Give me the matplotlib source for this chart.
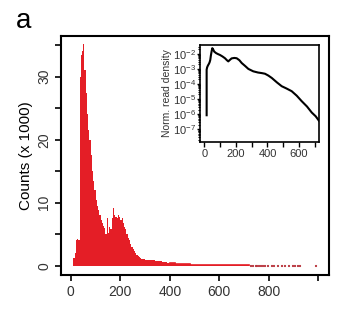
import matplotlib
matplotlib.use('Agg')
import matplotlib.pyplot as plt
import numpy as np

plt.rcParams['font.family'] = ['Liberation Sans', 'DejaVu Sans']
plt.rcParams['mathtext.fontset'] = 'custom'
plt.rcParams['mathtext.rm'] = 'Liberation Sans'
plt.rcParams['mathtext.it'] = 'Liberation Sans:italic'
plt.rcParams['mathtext.bf'] = 'Liberation Sans:bold'

# fragment length histogram, counts in thousands, 5 bp bins starting at 10
bin_start = 10
bin_width = 5
counts = [1.2, 2.0, 4.0, 4.2, 4.0, 30.0, 33.5, 34.0, 35.2, 31.0,
          27.4, 24.0, 21.5, 20.0, 17.5, 15.0, 13.5, 12.0, 10.5, 9.5,
          8.8, 8.0, 7.2, 6.8, 6.3, 6.0, 5.0, 7.6, 5.2, 6.2,
          5.8, 7.5, 9.2, 8.0, 7.8, 7.6, 8.0, 7.8, 7.3, 7.5,
          6.8, 6.1, 5.8, 5.0, 4.4, 4.0, 3.4, 3.0, 2.6, 2.3,
          2.0, 1.7, 1.5, 1.35, 1.2, 1.1, 1.05, 1.0, 0.95, 0.92,
          0.9, 0.9, 0.88, 0.86, 0.85, 0.83, 0.82, 0.8, 0.78, 0.75,
          0.72, 0.7, 0.66, 0.62, 0.58, 0.52, 0.46, 0.42]
# long tail, 20 bp bins from 400
tail_start = 400
tail_width = 20
tail_counts = [0.38, 0.3, 0.24, 0.2, 0.17, 0.15, 0.13, 0.11,
               0.1, 0.09, 0.08, 0.07, 0.06, 0.05, 0.04, 0.035]
# isolated long fragments
sparse_pos = [725, 735, 745, 752, 760, 768, 775, 785, 795, 810,
              820, 835, 850, 865, 880, 895, 905, 915, 925, 990]
sparse_counts = [0.03] * len(sparse_pos)

# inset: normalised read density (log10) vs fragment length
dens_x = [15, 15, 18, 22, 26, 30, 34, 38, 42, 47, 51, 56, 63, 75,
          88, 99, 115, 131, 143, 152, 160, 173, 190, 205, 222, 237,
          258, 279, 310, 340, 365, 384, 405, 427, 460, 490, 520, 553,
          585, 616, 650, 680, 705, 726]
dens_log = [-6.08, -3.05, -2.9, -2.8, -2.72, -2.65, -2.55, -2.4, -2.1,
            -1.8, -1.62, -1.7, -1.85, -1.95, -2.02, -2.07, -2.17, -2.29,
            -2.42, -2.5, -2.42, -2.3, -2.27, -2.29, -2.42, -2.61, -2.8,
            -3.0, -3.16, -3.24, -3.28, -3.32, -3.44, -3.6, -3.9, -4.15,
            -4.3, -4.48, -4.78, -5.14, -5.5, -5.9, -6.15, -6.45]

red = '#E41E26'

fig = plt.figure(figsize=(3.56, 3.24), dpi=100)
ax = fig.add_axes([0.1713, 0.1512, 0.7528, 0.7377])

edges = bin_start + bin_width * np.arange(len(counts) + 1)
ax.stairs(counts, edges, fill=True, color=red, baseline=0)
tedges = tail_start + tail_width * np.arange(len(tail_counts) + 1)
ax.stairs(tail_counts, tedges, fill=True, color=red, baseline=0)
ax.stairs(tail_counts, tedges, color=red, baseline=0, lw=1.2)
ax.bar(sparse_pos, sparse_counts, width=4, color='#B8343C',
       edgecolor='#B8343C', linewidth=0.8)

ax.set_xlim(-40, 1044)
ax.set_ylim(-1.48, 36.46)
ax.set_xticks(range(0, 1001, 200))
ax.set_xticklabels(['0', '200', '400', '600', '800', ''])
ax.set_yticks(range(0, 36, 5))
ax.set_yticklabels(['0', '', '10', '', '20', '', '30', ''],
                   rotation=90, va='center')
for s in ax.spines.values():
    s.set_linewidth(1.5)
ax.tick_params(direction='out', length=4, width=1.2, labelsize=10,
               labelcolor='#333333', pad=3)
ax.set_ylabel('Counts (x 1000)', fontsize=11, labelpad=3)

fig.text(0.045, 0.915, 'a', fontsize=20)

# inset
ins = fig.add_axes([0.5618, 0.5617, 0.3343, 0.2994])
ins.plot(dens_x, np.power(10.0, dens_log), color='black', lw=1.5)
ins.set_yscale('log')
ins.set_xlim(-27, 726)
ins.set_ylim(10 ** -7.86, 10 ** -1.41)
ins.set_xticks(range(0, 701, 100))
ins.set_xticklabels(['0', '', '200', '', '400', '', '600', ''])
ins.set_yticks([10.0 ** k for k in range(-7, -1)])
ins.set_yticklabels(['$10^{%d}$' % k for k in range(-7, -1)])
ins.yaxis.set_minor_locator(matplotlib.ticker.LogLocator(base=10, subs=np.arange(2, 10), numticks=20))
ins.yaxis.set_minor_formatter(matplotlib.ticker.NullFormatter())
for s in ins.spines.values():
    s.set_linewidth(1.2)
ins.tick_params(axis='x', direction='out', length=3.5, width=1.0, labelsize=8,
                labelcolor='#333333', pad=1.5)
ins.tick_params(axis='y', which='major', direction='out', length=2.5, width=1.0,
                labelsize=8, labelcolor='#333333', pad=0.3)
ins.tick_params(axis='y', which='minor', direction='out', length=1.5, width=0.8)
ins.set_ylabel('Norm. read density', fontsize=7.5, color='#333333', labelpad=1)

fig.savefig('out.png', dpi=100)
